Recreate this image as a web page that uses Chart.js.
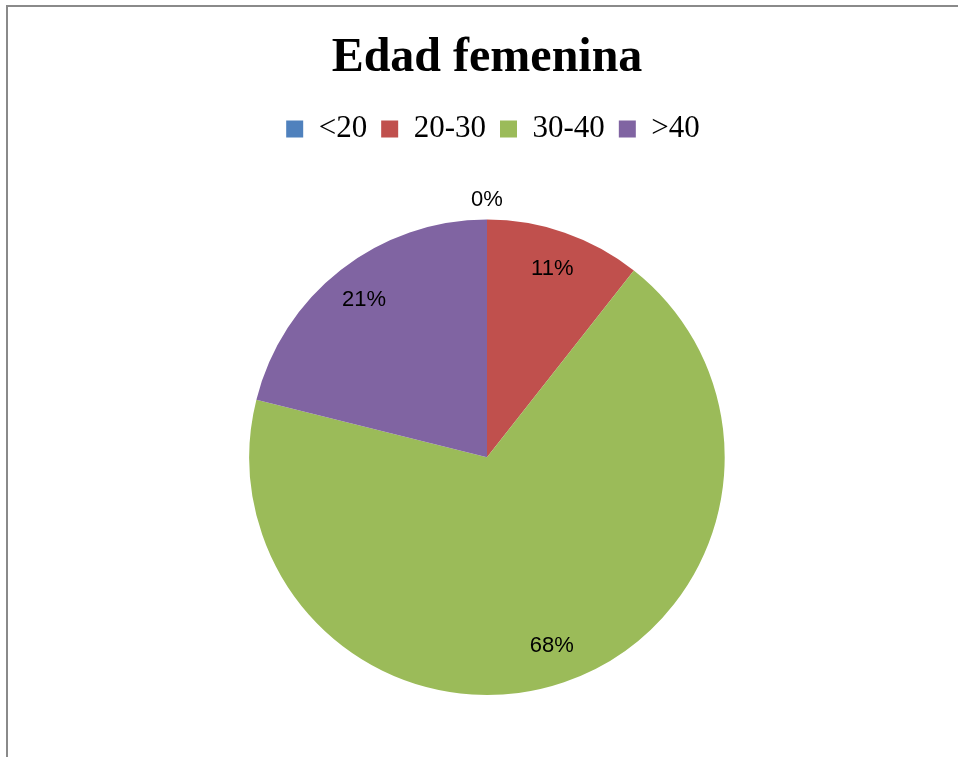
<!DOCTYPE html>
<html>
<head>
<meta charset="utf-8">
<script src="https://cdn.jsdelivr.net/npm/chart.js@4.4.1/dist/chart.umd.min.js"></script>
<style>
  html, body { margin: 0; padding: 0; background: #fff; overflow: hidden; }
  #frame { position: absolute; left: 6px; top: 5px; width: 1000px; height: 800px;
           border: 2px solid #8a8a8a; box-sizing: border-box; }
  #wrap { position: absolute; left: 0; top: 0; width: 958px; height: 757px; }
</style>
</head>
<body>
<div id="frame"></div>
<div id="wrap"><canvas id="myChart"></canvas></div>
<script>
const categories = ['<20', '20-30', '30-40', '>40'];
const values = [0, 10.6, 68.3, 21.1];
const percentLabels = ['0%', '11%', '68%', '21%'];
const colors = ['#4F81BD', '#C0504D', '#9BBB59', '#8064A2'];

// draws the percentage labels like the office chart does
const sliceLabels = {
    id: 'sliceLabels',
    afterDatasetsDraw(chart) {
        const ctx = chart.ctx;
        const meta = chart.getDatasetMeta(0);
        ctx.save();
        ctx.font = '22px "Liberation Sans", Arial, sans-serif';
        ctx.fillStyle = '#000';
        ctx.textAlign = 'center';
        ctx.textBaseline = 'middle';
        meta.data.forEach((arc, i) => {
            const mid = (arc.startAngle + arc.endAngle) / 2;
            let r = arc.outerRadius * 0.84;
            if (values[i] === 0) r = arc.outerRadius + 20;
            const x = arc.x + Math.cos(mid) * r;
            const y = arc.y + Math.sin(mid) * r;
            ctx.fillText(percentLabels[i], x, y);
        });
        ctx.restore();
    }
};

// extra room under the legend, and nudge it a bit to the right
const legendGap = {
    id: 'legendGap',
    beforeInit(chart) {
        const legend = chart.legend;
        const fit = legend.fit;
        legend.fit = function () {
            fit.call(this);
            this.height += 65;
        };
        const draw = legend.draw;
        legend.draw = function () {
            this.ctx.save();
            this.ctx.translate(6, 0);
            draw.call(this);
            this.ctx.restore();
        };
    }
};

const ctx = document.getElementById('myChart').getContext('2d');

const chart = new Chart(ctx, {
    type: 'pie',
    data: {
        labels: categories,
        datasets: [{
            data: values,
            backgroundColor: colors,
            borderWidth: 0
        }]
    },
    options: {
        responsive: true,
        maintainAspectRatio: false,
        animation: false,
        layout: { padding: { top: 30, bottom: 62, left: 16, right: 0 } },
        plugins: {
            title: {
                display: true,
                text: 'Edad femenina',
                color: '#000',
                font: { family: '"Liberation Serif", "Times New Roman", serif', size: 48, weight: 'bold' },
                padding: { top: 0, bottom: 12 }
            },
            legend: {
                position: 'top',
                labels: {
                    color: '#000',
                    font: { family: '"Liberation Serif", "Times New Roman", serif', size: 31 },
                    boxWidth: 17,
                    boxHeight: 17,
                    padding: 14
                }
            },
            tooltip: { enabled: false }
        }
    },
    plugins: [sliceLabels, legendGap]
});
</script>
</body>
</html>
